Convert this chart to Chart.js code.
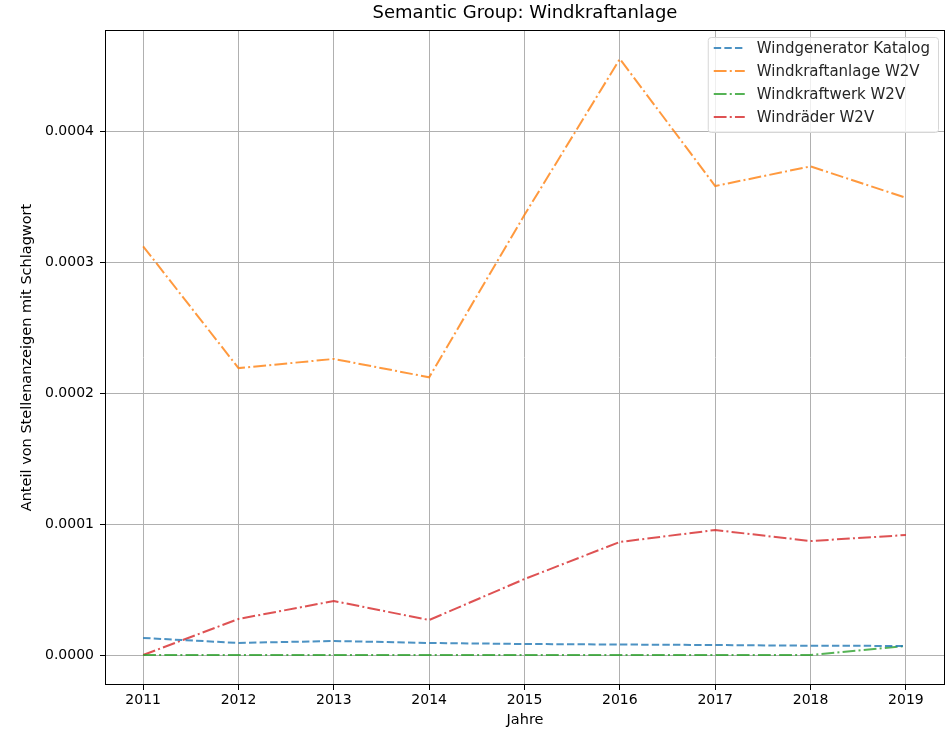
<!DOCTYPE html>
<html>
<head>
<meta charset="utf-8">
<script src="https://cdn.jsdelivr.net/npm/chart.js@4/dist/chart.umd.min.js"></script>
<style>
  html, body { margin: 0; padding: 0; background: #fff; }
  #chart { display: block; }
</style>
</head>
<body>
<canvas id="chart" width="947" height="733"></canvas>
<script>
// Werte (Anteil pro Jahr)
const years = [2011, 2012, 2013, 2014, 2015, 2016, 2017, 2018, 2019];
const windgeneratorKatalog = [0.0000130, 0.0000092, 0.0000107, 0.0000092, 0.0000084, 0.0000080, 0.0000076, 0.0000071, 0.0000069];
const windkraftanlageW2V = [0.000312, 0.000219, 0.000226, 0.000212, 0.000336, 0.000455, 0.000358, 0.000373, 0.000349];
const windkraftwerkW2V = [0, 0, 0, 0, 0, 0, 0, 0, 0.0000069];
const windraederW2V = [0, 0.0000275, 0.0000412, 0.0000267, 0.0000580, 0.0000863, 0.0000954, 0.0000870, 0.0000916];
const yTicks = [0, 0.0001, 0.0002, 0.0003, 0.0004];

const FONT = "'DejaVu Sans', sans-serif";
const DASHED = [7.4, 3.2];
const DASHDOT = [12.8, 3.2, 2, 3.2];

function series(label, values, color, dash) {
  return {
    label,
    data: years.map((y, i) => ({ x: y, y: values[i] })),
    borderColor: color,
    backgroundColor: color,
    borderWidth: 2,
    borderDash: dash,
    pointRadius: 0,
    tension: 0,
  };
}

// Rahmen um die Achsenfläche (alle vier Seiten)
const framePlugin = {
  id: "frame",
  afterDraw(chart) {
    const { ctx, chartArea: a } = chart;
    ctx.save();
    ctx.strokeStyle = "#000";
    ctx.lineWidth = 1;
    ctx.strokeRect(Math.round(a.left) + 0.5, Math.round(a.top) + 0.5,
      Math.round(a.right - a.left) - 1, Math.round(a.bottom - a.top) - 1);
    ctx.restore();
  },
};

// Legende oben rechts innerhalb der Achsen
const legendPlugin = {
  id: "innerLegend",
  afterDraw(chart) {
    const { ctx, chartArea: a } = chart;
    const sets = chart.data.datasets;
    ctx.save();
    ctx.font = "15px " + FONT;
    const textW = Math.max(...sets.map((d) => ctx.measureText(d.label).width));
    const rowH = 23;
    const boxW = 6 + 31 + 12 + textW + 8;
    const boxH = sets.length * rowH + 3;
    const x0 = a.right - 7 - boxW;
    const y0 = a.top + 7;
    ctx.fillStyle = "rgba(255,255,255,0.8)";
    ctx.strokeStyle = "#d6d6d6";
    ctx.lineWidth = 1;
    ctx.beginPath();
    ctx.roundRect(x0 + 0.5, y0 + 0.5, boxW, boxH, 3);
    ctx.fill();
    ctx.stroke();
    sets.forEach((d, i) => {
      const cy = y0 + 11 + i * rowH;
      ctx.strokeStyle = d.borderColor;
      ctx.lineWidth = d.borderWidth;
      ctx.setLineDash(d.borderDash);
      ctx.beginPath();
      ctx.moveTo(x0 + 6, cy);
      ctx.lineTo(x0 + 37, cy);
      ctx.stroke();
      ctx.setLineDash([]);
      ctx.fillStyle = "#262626";
      ctx.textBaseline = "middle";
      ctx.textAlign = "left";
      ctx.fillText(d.label, x0 + 49, cy + 1);
    });
    ctx.restore();
  },
};

new Chart(document.getElementById("chart").getContext("2d"), {
  type: "line",
  data: {
    datasets: [
      series("Windgenerator Katalog", windgeneratorKatalog, "rgba(31,119,180,0.8)", DASHED),
      series("Windkraftanlage W2V", windkraftanlageW2V, "rgba(255,127,14,0.8)", DASHDOT),
      series("Windkraftwerk W2V", windkraftwerkW2V, "rgba(44,160,44,0.8)", DASHDOT),
      series("Windräder W2V", windraederW2V, "rgba(214,39,40,0.8)", DASHDOT),
    ],
  },
  plugins: [framePlugin, legendPlugin],
  options: {
    responsive: false,
    animation: false,
    layout: { padding: { left: 0, right: 2, top: 0, bottom: 0 } },
    plugins: {
      legend: { display: false },
      tooltip: { enabled: false },
      title: {
        display: true,
        fullSize: false,
        text: "Semantic Group: Windkraftanlage",
        color: "#000",
        font: { family: FONT, size: 18, weight: "normal" },
        padding: { top: 3, bottom: 5.4 },
      },
    },
    scales: {
      x: {
        type: "linear",
        min: 2010.6,
        max: 2019.41,
        afterBuildTicks(scale) {
          scale.ticks = years.map((v) => ({ value: v }));
        },
        afterFit(scale) {
          scale.height = 48;
        },
        ticks: {
          color: "#000",
          font: { family: FONT, size: 14 },
          padding: 2,
          maxRotation: 0,
          callback: (v) => String(v),
        },
        grid: { color: "#b0b0b0", lineWidth: 1, tickColor: "#000", tickLength: 5 },
        border: { display: false },
        title: {
          display: true,
          text: "Jahre",
          color: "#000",
          font: { family: FONT, size: 14.5 },
          padding: { top: 0, bottom: 4.3 },
        },
      },
      y: {
        type: "linear",
        min: -0.0000229,
        max: 0.0004771,
        afterBuildTicks(scale) {
          scale.ticks = yTicks.map((v) => ({ value: v }));
        },
        afterFit(scale) {
          scale.width = 105;
        },
        ticks: {
          color: "#000",
          font: { family: FONT, size: 14 },
          padding: 6,
          callback: (v) => v.toFixed(4),
        },
        grid: { color: "#b0b0b0", lineWidth: 1, tickColor: "#000", tickLength: 5 },
        border: { display: false },
        title: {
          display: true,
          text: "Anteil von Stellenanzeigen mit Schlagwort",
          color: "#000",
          font: { family: FONT, size: 14.5 },
          padding: { top: 18.3, bottom: 0 },
        },
      },
    },
  },
});
</script>
</body>
</html>
